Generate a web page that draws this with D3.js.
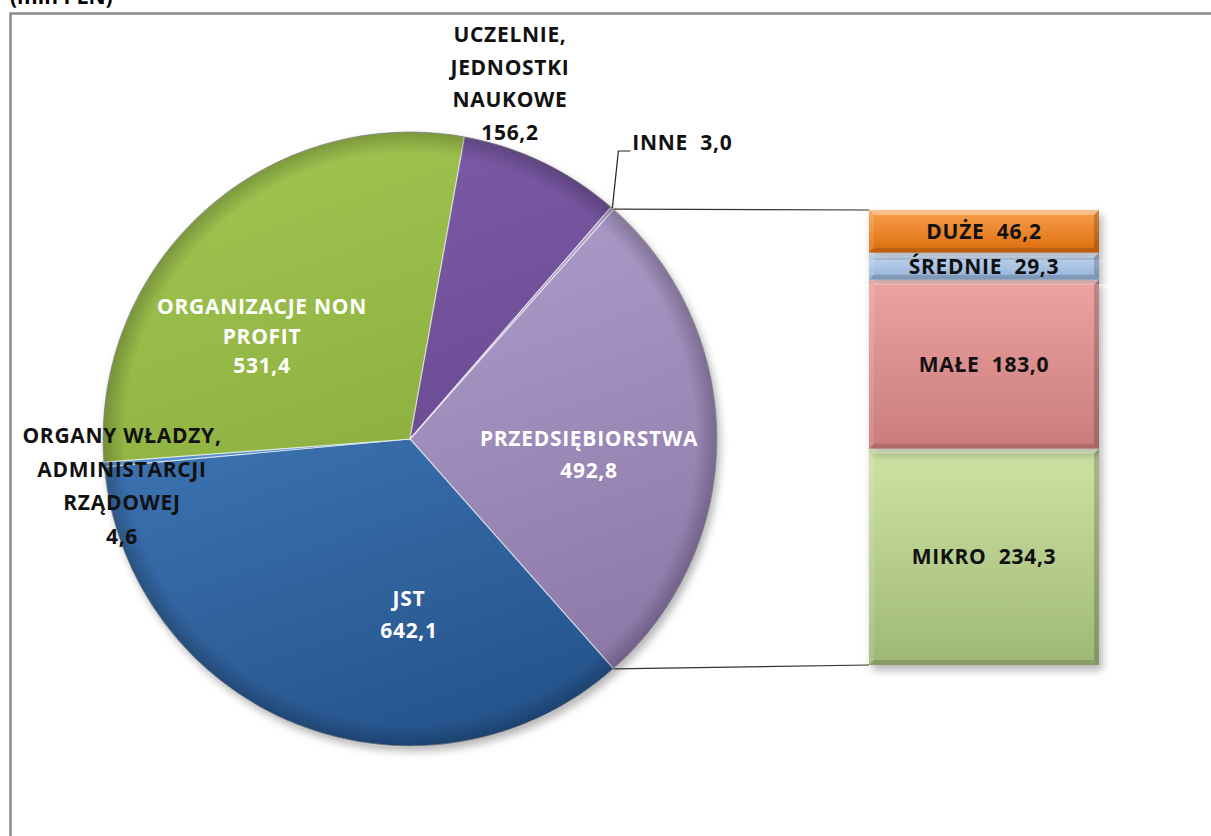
<!DOCTYPE html>
<html>
<head>
<meta charset="utf-8">
<script src="https://cdn.jsdelivr.net/npm/d3@7"></script>
<style>
  body { margin: 0; background: #fff; }
  svg { display: block; }
  text { font-family: "Open Sans", "DejaVu Sans", sans-serif; font-weight: bold; }
</style>
</head>
<body>
<svg></svg>
<script>
// pie slices, in clockwise order starting from the split-off slice
const pieCategories = ["PRZEDSIĘBIORSTWA", "JST", "ORGANY WŁADZY, ADMINISTARCJI RZĄDOWEJ",
                       "ORGANIZACJE NON PROFIT", "UCZELNIE, JEDNOSTKI NAUKOWE", "INNE"];
const pieValues = [492.8, 642.1, 4.6, 531.4, 156.2, 3.0];
const pieValueLabels = ["492,8", "642,1", "4,6", "531,4", "156,2", "3,0"];

// breakdown of PRZEDSIĘBIORSTWA, bottom to top
const barCategories = ["MIKRO", "MAŁE", "ŚREDNIE", "DUŻE"];
const barValues = [234.3, 183.0, 29.3, 46.2];
const barValueLabels = ["234,3", "183,0", "29,3", "46,2"];

const chartTitle = "(mln PLN)";

const width = 1211, height = 836;
const cx = 410, cy = 439, radius = 307;
const barLeft = 869, barRight = 1099, barTop = 210, barBottom = 665;

const pieColors = [
  ["#b5a5d1", "#8a76a6"],   // przedsiebiorstwa
  ["#4a86c8", "#24528a"],   // jst
  ["#6aa2dc", "#3d77b8"],   // organy
  ["#a0c450", "#7c9e32"],   // non profit
  ["#7d5ca8", "#5d4082"],   // uczelnie
  ["#b0a2c8", "#8f80aa"]    // inne
];
const barColors = [
  ["#cde3a4", "#a0b877"],   // mikro
  ["#eca3a2", "#c97c7b"],   // male
  ["#c4d8f0", "#93b1d6"],   // srednie
  ["#f9a04e", "#dc6c0c"]    // duze
];

const svg = d3.select("svg")
    .attr("width", width)
    .attr("height", height);

const defs = svg.append("defs");

const shadow = defs.append("filter")
    .attr("id", "shadow")
    .attr("x", "-10%").attr("y", "-10%")
    .attr("width", "125%").attr("height", "125%");
shadow.append("feDropShadow")
    .attr("dx", 3).attr("dy", 5)
    .attr("stdDeviation", 4)
    .attr("flood-color", "#000")
    .attr("flood-opacity", 0.3);

pieColors.forEach((c, i) => {
  const g = defs.append("linearGradient")
      .attr("id", "pg" + i)
      .attr("gradientUnits", "userSpaceOnUse")
      .attr("x1", -radius * 0.4).attr("y1", -radius)
      .attr("x2", radius * 0.3).attr("y2", radius);
  g.append("stop").attr("offset", "0%").attr("stop-color", c[0]);
  g.append("stop").attr("offset", "100%").attr("stop-color", c[1]);
});

barColors.forEach((c, i) => {
  const g = defs.append("linearGradient")
      .attr("id", "bg" + i)
      .attr("x1", 0).attr("y1", 0).attr("x2", 0).attr("y2", 1);
  g.append("stop").attr("offset", "0%").attr("stop-color", c[0]);
  g.append("stop").attr("offset", "100%").attr("stop-color", c[1]);
});

// darker rim on the pie edge
const rim = defs.append("radialGradient")
    .attr("id", "rim")
    .attr("gradientUnits", "userSpaceOnUse")
    .attr("cx", 0).attr("cy", 0).attr("r", radius);
rim.append("stop").attr("offset", "0%").attr("stop-color", "#000").attr("stop-opacity", 0);
rim.append("stop").attr("offset", "93%").attr("stop-color", "#000").attr("stop-opacity", 0);
rim.append("stop").attr("offset", "100%").attr("stop-color", "#000").attr("stop-opacity", 0.22);

// title (cut off at the top) and frame
svg.append("text")
    .attr("x", 10)
    .attr("y", 4)
    .style("font-size", "21px")
    .attr("fill", "#000")
    .text(chartTitle);

svg.append("rect")
    .attr("x", 10.5).attr("y", 13.5)
    .attr("width", 1400).attr("height", 1000)
    .attr("fill", "none")
    .attr("stroke", "#8a8a8a")
    .attr("stroke-width", 2.5);

// pie
const total = d3.sum(pieValues);
const splitAngle = pieValues[0] / total * 2 * Math.PI;
const startAngle = Math.PI / 2 - splitAngle / 2;

const pie = d3.pie()
    .sort(null)
    .startAngle(startAngle)
    .endAngle(startAngle + 2 * Math.PI);

const arcs = pie(pieValues);

const arc = d3.arc()
    .innerRadius(0)
    .outerRadius(radius);

const pieG = svg.append("g")
    .attr("transform", `translate(${cx},${cy})`);

pieG.append("circle")
    .attr("r", radius)
    .attr("fill", "#fff")
    .attr("filter", "url(#shadow)");

pieG.selectAll("path.slice")
    .data(arcs)
    .enter()
    .append("path")
    .attr("class", "slice")
    .attr("d", arc)
    .attr("fill", (d, i) => `url(#pg${i})`)
    .attr("stroke", "rgba(255,255,255,0.55)")
    .attr("stroke-width", 1.2);

pieG.append("circle")
    .attr("r", radius)
    .attr("fill", "url(#rim)");

pieG.append("circle")
    .attr("r", radius)
    .attr("fill", "none")
    .attr("stroke", "rgba(60,60,60,0.45)")
    .attr("stroke-width", 1);

// bar of the split slice
const yScale = d3.scaleLinear()
    .domain([0, d3.sum(barValues)])
    .range([barBottom, barTop]);

const stacked = [];
let acc = 0;
barValues.forEach((v, i) => {
  stacked.push({ i: i, y0: acc, y1: acc + v });
  acc += v;
});

const barG = svg.append("g");

barG.selectAll("rect.seg")
    .data(stacked)
    .enter()
    .append("rect")
    .attr("class", "seg")
    .attr("x", barLeft)
    .attr("y", d => yScale(d.y1))
    .attr("width", barRight - barLeft)
    .attr("height", d => yScale(d.y0) - yScale(d.y1))
    .attr("fill", d => `url(#bg${d.i})`)
    .attr("filter", "url(#shadow)");

// bevel edges
const bev = 5;
stacked.forEach(d => {
  const x0 = barLeft, x1 = barRight, y0 = yScale(d.y1), y1 = yScale(d.y0);
  barG.append("path")
      .attr("d", `M${x0},${y0}L${x1},${y0}L${x1 - bev},${y0 + bev}L${x0 + bev},${y0 + bev}Z`)
      .attr("fill", "#fff").attr("opacity", 0.35);
  barG.append("path")
      .attr("d", `M${x0},${y1}L${x1},${y1}L${x1 - bev},${y1 - bev}L${x0 + bev},${y1 - bev}Z`)
      .attr("fill", "#000").attr("opacity", 0.15);
  barG.append("path")
      .attr("d", `M${x1},${y0}L${x1},${y1}L${x1 - bev},${y1 - bev}L${x1 - bev},${y0 + bev}Z`)
      .attr("fill", "#000").attr("opacity", 0.18);
  barG.append("path")
      .attr("d", `M${x0},${y0}L${x0},${y1}L${x0 + bev},${y1 - bev}L${x0 + bev},${y0 + bev}Z`)
      .attr("fill", "#fff").attr("opacity", 0.12);
});

// connector lines from the split slice to the bar
const a0 = arcs[0].startAngle, a1 = arcs[0].endAngle;
const p0 = [cx + radius * Math.sin(a0), cy - radius * Math.cos(a0)];
const p1 = [cx + radius * Math.sin(a1), cy - radius * Math.cos(a1)];

svg.append("line")
    .attr("x1", p0[0]).attr("y1", p0[1])
    .attr("x2", barLeft).attr("y2", yScale(d3.sum(barValues)))
    .attr("stroke", "#333").attr("stroke-width", 1.2);
svg.append("line")
    .attr("x1", p1[0]).attr("y1", p1[1])
    .attr("x2", barLeft).attr("y2", yScale(0))
    .attr("stroke", "#333").attr("stroke-width", 1.2);

// pie labels: lines, baseline offsets from pie centre, line step, colour
const pieLabelLayout = [
  { lines: ["PRZEDSIĘBIORSTWA", pieValueLabels[0]], dx: 179, dy: 7, step: 32, color: "#fff" },
  { lines: ["JST", pieValueLabels[1]], dx: -1, dy: 167, step: 32, color: "#fff" },
  { lines: ["ORGANY WŁADZY,", "ADMINISTARCJI", "RZĄDOWEJ", pieValueLabels[2]], dx: -288, dy: 4, step: 33.7, color: "#111" },
  { lines: ["ORGANIZACJE NON", "PROFIT", pieValueLabels[3]], dx: -148, dy: -125, step: 29.5, color: "#fff" },
  { lines: ["UCZELNIE,", "JEDNOSTKI", "NAUKOWE", pieValueLabels[4]], dx: 100, dy: -397, step: 32.5, color: "#111" }
];

const labelFont = "21px";
const labelSpacing = "0.7px";

pieLabelLayout.forEach(l => {
  const t = svg.append("text")
      .attr("text-anchor", "middle")
      .style("font-size", labelFont)
      .style("letter-spacing", labelSpacing)
      .attr("fill", l.color);
  l.lines.forEach((s, k) => {
    t.append("tspan")
        .attr("x", cx + l.dx)
        .attr("y", cy + l.dy + k * l.step)
        .text(s);
  });
});

// INNE with leader line
const ia = (arcs[5].startAngle + arcs[5].endAngle) / 2;
const ip = [cx + radius * Math.sin(ia), cy - radius * Math.cos(ia)];
svg.append("polyline")
    .attr("points", `${ip[0]},${ip[1]} ${ip[0] + 6},${cy - 288} ${ip[0] + 18},${cy - 288}`)
    .attr("fill", "none")
    .attr("stroke", "#222")
    .attr("stroke-width", 1.2);
svg.append("text")
    .attr("x", ip[0] + 20)
    .attr("y", cy - 289)
    .style("font-size", labelFont)
    .style("letter-spacing", labelSpacing)
    .attr("fill", "#111")
    .attr("xml:space", "preserve")
    .text("INNE  " + pieValueLabels[5]);

// bar labels
barG.selectAll("text.bl")
    .data(stacked)
    .enter()
    .append("text")
    .attr("class", "bl")
    .attr("x", (barLeft + barRight) / 2)
    .attr("y", d => (yScale(d.y0) + yScale(d.y1)) / 2)
    .attr("dy", "0.36em")
    .attr("text-anchor", "middle")
    .attr("xml:space", "preserve")
    .style("font-size", labelFont)
    .style("letter-spacing", labelSpacing)
    .attr("fill", "#111")
    .text(d => barCategories[d.i] + "  " + barValueLabels[d.i]);
</script>
</body>
</html>
